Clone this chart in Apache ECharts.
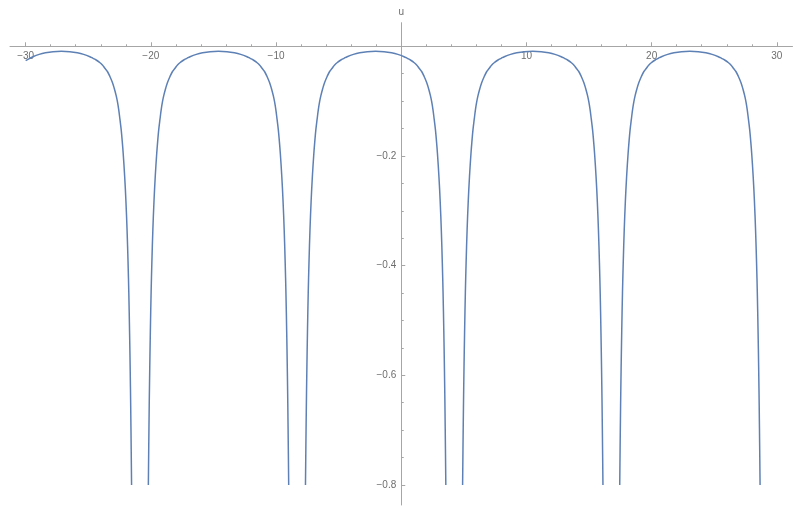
<!DOCTYPE html>
<html>
<head>
<meta charset="utf-8">
<script src="https://cdn.jsdelivr.net/npm/echarts@6/dist/echarts.min.js"></script>
<style>
  html, body { margin: 0; padding: 0; background: #fff; }
  #main { width: 800px; height: 506px; }
</style>
</head>
<body>
<div id="main"></div>
<script>
// tick labels
var xTicks = [-30, -20, -10, 10, 20, 30];
var xMinorTicks = [-28, -26, -24, -22, -18, -16, -14, -12, -8, -6, -4, -2,
  2, 4, 6, 8, 12, 14, 16, 18, 22, 24, 26, 28];
var yTicks = [-0.8, -0.6, -0.4, -0.2];
var yMinorTicks = [-0.05, -0.1, -0.15, -0.25, -0.3, -0.35, -0.45, -0.5, -0.55,
  -0.65, -0.7, -0.75];

// first piece, from x = -30 down to the first drop
var startX = [-30.0, -29.67, -29.42, -28.92, -28.42, -27.82, -27.15,
  -26.47, -25.87, -25.37, -24.87, -24.62, -24.37, -24.12, -23.87, -23.67, -23.47,
  -23.27, -23.07, -22.92, -22.77, -22.67, -22.57, -22.47, -22.37, -22.29, -22.21,
  -22.09, -21.99, -21.90, -21.82, -21.76, -21.70, -21.65, -21.61, -21.57, -21.54];
var startU = [-0.026, -0.022, -0.019, -0.0148, -0.0120, -0.0100, -0.0092,
  -0.0100, -0.0120, -0.0148, -0.019, -0.022, -0.025, -0.029, -0.034, -0.040, -0.046,
  -0.055, -0.066, -0.077, -0.090, -0.101, -0.115, -0.133, -0.152, -0.172, -0.195,
  -0.238, -0.283, -0.335, -0.395, -0.45, -0.52, -0.59, -0.655, -0.735, -0.80];

// u along one full arch, drop to drop
var arcU = [-0.80, -0.735, -0.655, -0.59, -0.52, -0.45, -0.395, -0.335, -0.283, -0.238,
  -0.195, -0.172, -0.152, -0.133, -0.115, -0.101, -0.090, -0.077, -0.066, -0.055,
  -0.046, -0.040, -0.034, -0.029, -0.025, -0.022, -0.019, -0.0148, -0.0120, -0.0100,
  -0.0092,
  -0.0100, -0.0120, -0.0148, -0.019, -0.022, -0.025, -0.029, -0.034, -0.040, -0.046,
  -0.055, -0.066, -0.077, -0.090, -0.101, -0.115, -0.133, -0.152, -0.172, -0.195,
  -0.238, -0.283, -0.335, -0.395, -0.45, -0.52, -0.59, -0.655, -0.735, -0.80];

var arcX1 = [-20.20, -20.17, -20.13, -20.09, -20.04, -19.98, -19.92, -19.84, -19.75, -19.65,
  -19.53, -19.45, -19.37, -19.27, -19.17, -19.07, -18.97, -18.82, -18.67, -18.47,
  -18.27, -18.07, -17.87, -17.62, -17.37, -17.12, -16.87, -16.37, -15.87, -15.27,
  -14.60,
  -13.92, -13.32, -12.82, -12.32, -12.07, -11.82, -11.57, -11.32, -11.12, -10.92,
  -10.72, -10.52, -10.37, -10.22, -10.12, -10.02, -9.92, -9.82, -9.74, -9.66,
  -9.54, -9.44, -9.35, -9.27, -9.21, -9.15, -9.10, -9.06, -9.02, -8.99];
var arcX2 = [-7.65, -7.62, -7.58, -7.54, -7.49, -7.43, -7.37, -7.29, -7.20, -7.10,
  -6.98, -6.90, -6.82, -6.72, -6.62, -6.52, -6.42, -6.27, -6.12, -5.92,
  -5.72, -5.52, -5.32, -5.07, -4.82, -4.57, -4.32, -3.82, -3.32, -2.72,
  -2.05,
  -1.37, -0.77, -0.27, 0.23, 0.48, 0.73, 0.98, 1.23, 1.43, 1.63,
  1.83, 2.03, 2.18, 2.33, 2.43, 2.53, 2.63, 2.73, 2.81, 2.89,
  3.01, 3.11, 3.20, 3.28, 3.34, 3.40, 3.45, 3.49, 3.53, 3.56];
var arcX3 = [4.90, 4.93, 4.97, 5.01, 5.06, 5.12, 5.18, 5.26, 5.35, 5.45,
  5.57, 5.65, 5.73, 5.83, 5.93, 6.03, 6.13, 6.28, 6.43, 6.63,
  6.83, 7.03, 7.23, 7.48, 7.73, 7.98, 8.23, 8.73, 9.23, 9.83,
  10.50,
  11.18, 11.78, 12.28, 12.78, 13.03, 13.28, 13.53, 13.78, 13.98, 14.18,
  14.38, 14.58, 14.73, 14.88, 14.98, 15.08, 15.18, 15.28, 15.36, 15.44,
  15.56, 15.66, 15.75, 15.83, 15.89, 15.95, 16.00, 16.04, 16.08, 16.11];
var arcX4 = [17.45, 17.48, 17.52, 17.56, 17.61, 17.67, 17.73, 17.81, 17.90, 18.00,
  18.12, 18.20, 18.28, 18.38, 18.48, 18.58, 18.68, 18.83, 18.98, 19.18,
  19.38, 19.58, 19.78, 20.03, 20.28, 20.53, 20.78, 21.28, 21.78, 22.38,
  23.05,
  23.73, 24.33, 24.83, 25.33, 25.58, 25.83, 26.08, 26.33, 26.53, 26.73,
  26.93, 27.13, 27.28, 27.43, 27.53, 27.63, 27.73, 27.83, 27.91, 27.99,
  28.11, 28.21, 28.30, 28.38, 28.44, 28.50, 28.55, 28.59, 28.63, 28.66];

function zip(xs, ys) {
  var out = [];
  for (var i = 0; i < xs.length; i++) out.push([xs[i], ys[i]]);
  return out;
}

function minus(v) {
  return (v < 0 ? '\u2212' : '') + Math.abs(v);
}

var axisColor = '#a6a6a6';
var textColor = '#6e6e6e';
var font = 'Liberation Sans, Arial, sans-serif';

var X_MIN = -31.25, X_MAX = 31.25;
var Y_MIN = -0.8365, Y_MAX = 0.043;

var pieces = [
  zip(startX, startU),
  zip(arcX1, arcU),
  zip(arcX2, arcU),
  zip(arcX3, arcU),
  zip(arcX4, arcU)
];

var series = pieces.map(function (d) {
  return {
    type: 'line',
    xAxisIndex: 0,
    yAxisIndex: 0,
    data: d,
    showSymbol: false,
    smooth: 0.4,
    silent: true,
    lineStyle: { color: '#5E81B5', width: 1.5 }
  };
});

function hiddenAxis(grid, min, max) {
  return { type: 'value', gridIndex: grid, min: min, max: max, show: false };
}

var chart = echarts.init(document.getElementById('main'), null, { renderer: 'canvas' });

// grid 0 = data, grid 1 = horizontal axis (bottom edge at u = 0), grid 2 = vertical axis (left edge at x = 0)
var option = {
  backgroundColor: '#fff',
  animation: false,
  grid: [
    { left: 10, right: 7.5, top: 22.7, bottom: 1, outerBoundsMode: 'none' },
    { left: 10, right: 7.5, top: 22.7, height: 23.58, outerBoundsMode: 'none' },
    { left: 401.25, right: 7.5, top: 22.7, bottom: 1, outerBoundsMode: 'none' }
  ],
  xAxis: [
    hiddenAxis(0, X_MIN, X_MAX),
    {
      type: 'value', gridIndex: 1, position: 'bottom', min: X_MIN, max: X_MAX,
      axisLine: { onZero: false, lineStyle: { color: axisColor, width: 1 } },
      axisTick: { inside: true, length: 4, customValues: xTicks, lineStyle: { color: axisColor } },
      axisLabel: {
        customValues: xTicks, formatter: minus, color: textColor,
        fontSize: 10, fontFamily: font, margin: 5
      },
      splitLine: { show: false }
    },
    {
      type: 'value', gridIndex: 1, position: 'bottom', min: X_MIN, max: X_MAX,
      axisLine: { show: false, onZero: false },
      axisTick: { inside: true, length: 2, customValues: xMinorTicks, lineStyle: { color: axisColor } },
      axisLabel: { show: false },
      splitLine: { show: false }
    },
    hiddenAxis(2, X_MIN, X_MAX)
  ],
  yAxis: [
    hiddenAxis(0, Y_MIN, Y_MAX),
    hiddenAxis(1, -1, 0),
    {
      type: 'value', gridIndex: 2, position: 'left', min: Y_MIN, max: Y_MAX,
      name: 'u', nameLocation: 'end', nameGap: 5,
      nameTextStyle: { color: textColor, fontSize: 10, fontFamily: font },
      axisLine: { onZero: false, lineStyle: { color: axisColor, width: 1 } },
      axisTick: { inside: true, length: 4, customValues: yTicks, lineStyle: { color: axisColor } },
      axisLabel: {
        customValues: yTicks, formatter: minus, color: textColor,
        fontSize: 10, fontFamily: font, margin: 5
      },
      splitLine: { show: false }
    },
    {
      type: 'value', gridIndex: 2, position: 'left', min: Y_MIN, max: Y_MAX,
      axisLine: { show: false, onZero: false },
      axisTick: { inside: true, length: 2.5, customValues: yMinorTicks, lineStyle: { color: axisColor } },
      axisLabel: { show: false },
      splitLine: { show: false }
    }
  ],
  series: series
};

chart.setOption(option);
</script>
</body>
</html>
